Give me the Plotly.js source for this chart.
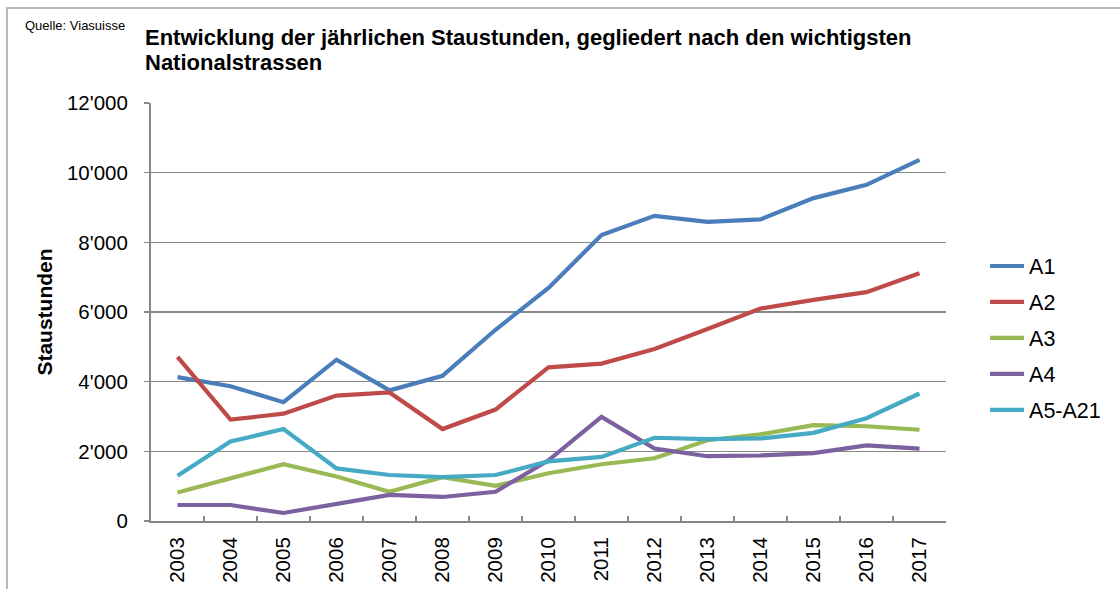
<!DOCTYPE html>
<html>
<head>
<meta charset="utf-8">
<script src="https://cdn.plot.ly/plotly-3.0.1.min.js"></script>
<style>
html,body{margin:0;padding:0;background:#fff;}
#wrap{position:relative;width:1120px;height:589px;overflow:hidden;}
#frame{position:absolute;left:6px;top:7px;width:1200px;height:700px;border-top:2px solid #b8b8b8;border-left:2px solid #b8b8b8;pointer-events:none;z-index:5;}
#chart{position:absolute;left:0;top:0;width:1120px;height:589px;}
</style>
</head>
<body>
<div id="wrap"><div id="chart"></div><div id="frame"></div></div>
<script>
const years = ['2003','2004','2005','2006','2007','2008','2009','2010','2011','2012','2013','2014','2015','2016','2017'];
const a1 = [4130,3870,3410,4630,3750,4170,5490,6690,8210,8760,8590,8660,9270,9650,10370];
const a2 = [4710,2910,3080,3600,3690,2640,3200,4410,4520,4940,5510,6100,6350,6570,7110];
const a3 = [820,1240,1630,1280,840,1260,1010,1370,1630,1800,2320,2490,2750,2720,2620];
const a4 = [460,460,230,480,750,690,840,1740,2990,2080,1860,1880,1950,2170,2080];
const a5 = [1300,2280,2640,1510,1320,1260,1320,1710,1840,2390,2350,2370,2530,2950,3660];
const seriesNames = ['A1','A2','A3','A4','A5-A21'];
const colors = ['#4a7ebb','#be4b48','#98b954','#7d60a0','#46aac5'];
const vals = [a1,a2,a3,a4,a5];

const traces = vals.map((v,i)=>({
  x: years, y: v, name: seriesNames[i], legendgroup: 'g'+i, type:'scatter', mode:'lines',
  line:{color:colors[i], width:4.2}
}));

const layout = {
  width:1120, height:589,
  margin:{l:151, r:174, t:103, b:68},
  paper_bgcolor:'#fff', plot_bgcolor:'#fff',
  font:{family:'Liberation Sans, Arial, sans-serif', color:'#000'},
  separators:".'",
  showlegend:true,
  legend:{x:(984-151)/794, xanchor:'left', y:(521-338)/418, yanchor:'middle', font:{size:21.5}, tracegroupgap:5, itemwidth:34, bgcolor:'rgba(0,0,0,0)'},
  title:{text:'<b>Entwicklung der jährlichen Staustunden, gegliedert nach den wichtigsten</b>',
    x:145/1120, xref:'container', xanchor:'left', y:1-37/589, yref:'container', yanchor:'middle',
    font:{size:22, family:'Liberation Sans, Arial, sans-serif', color:'#000'}},
  xaxis:{type:'category', range:[-0.5,14.5], tickangle:-90, tickfont:{size:20.5}, showgrid:false,
    showline:true, linecolor:'#878787', linewidth:2, ticks:'inside', tickson:'boundaries',
    ticklen:5, tickcolor:'#878787', tickwidth:1.3, ticklabelstandoff:6},
  yaxis:{range:[0,12000], dtick:2000, tickformat:',d', tickfont:{size:20.5},
    showgrid:true, gridcolor:'#878787', gridwidth:1.3, showline:true, linecolor:'#878787', linewidth:2,
    zeroline:false, ticks:'outside', ticklen:5, tickcolor:'#878787', tickwidth:1.3, ticklabelstandoff:12,
    title:{text:'<b>Staustunden</b>', font:{size:21}, standoff:9}},
  annotations:[
    {text:'<b>Nationalstrassen</b>', xref:'paper', yref:'paper', x:-8/794, y:(521-62)/418,
      xanchor:'left', yanchor:'middle', showarrow:false, font:{size:22}},
    {text:'Quelle: Viasuisse', xref:'paper', yref:'paper', x:-128/794, y:(521-25)/418,
      xanchor:'left', yanchor:'middle', showarrow:false, font:{size:13}}]
};
Plotly.newPlot('chart', traces, layout, {displayModeBar:false, staticPlot:true});
</script>
</body>
</html>
